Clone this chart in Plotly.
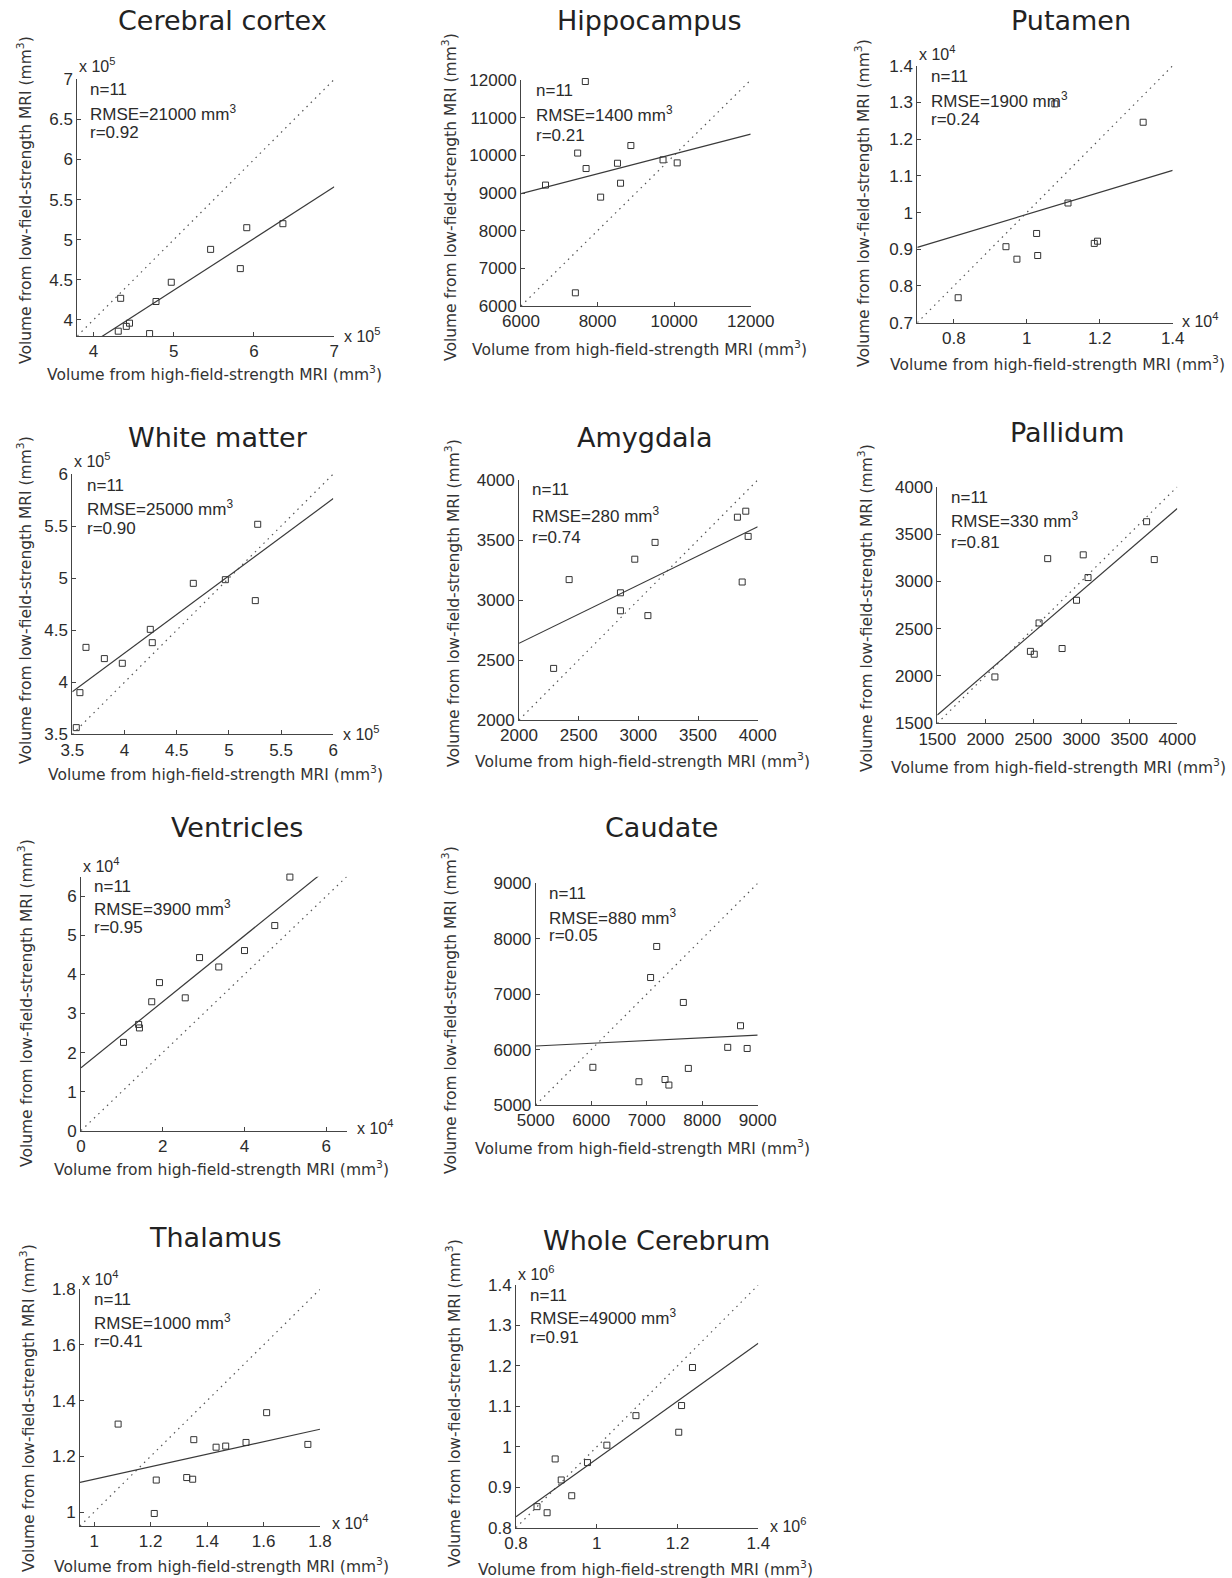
import numpy as np
import plotly.graph_objects as go

W, H = 1232, 1578

# ---------------- data (mm^3) ----------------
titles = ["Cerebral cortex", "Hippocampus", "Putamen", "White matter", "Amygdala",
          "Pallidum", "Ventricles", "Caudate", "Thalamus", "Whole Cerebrum"]

cortex_high = [434000, 431000, 441000, 445000, 470000, 478000, 497000, 546000, 583000, 591000, 636000]
cortex_low = [427000, 386000, 392000, 396000, 383000, 423000, 447000, 488000, 464000, 515000, 520000]

hippo_high = [6640, 7480, 7680, 7700, 7420, 8080, 8520, 8600, 8870, 9710, 10080]
hippo_low = [9210, 10060, 11960, 9650, 6350, 8890, 9790, 9260, 10260, 9880, 9800]

putamen_high = [8120, 9430, 9730, 10270, 10300, 10770, 11130, 11850, 11940, 13190]
putamen_low = [7680, 9070, 8730, 9430, 8830, 12960, 10260, 9160, 9220, 12460]

white_high = [353800, 357300, 363100, 380700, 397900, 424700, 426600, 465900, 496600, 525300, 527600]
white_low = [356400, 390000, 433500, 422700, 418200, 450800, 438000, 495000, 498500, 478400, 551700]

amyg_high = [2290, 2420, 2850, 2850, 2970, 3080, 3140, 3830, 3900, 3870, 3920]
amyg_low = [2430, 3170, 3060, 2910, 3340, 2870, 3480, 3690, 3740, 3150, 3530]

pall_high = [2100, 2470, 2510, 2560, 2650, 2800, 2950, 3020, 3070, 3680, 3760]
pall_low = [1990, 2260, 2230, 2560, 3240, 2290, 2800, 3280, 3040, 3630, 3230]

vent_high = [10400, 14100, 14300, 17300, 19200, 25500, 29000, 33700, 40000, 47400, 51100]
vent_low = [22600, 27200, 26300, 33000, 37900, 34000, 44300, 41900, 46100, 52500, 64900]

caud_high = [6030, 6860, 7070, 7180, 7330, 7400, 7660, 7750, 8460, 8690, 8810]
caud_low = [5680, 5420, 7300, 7860, 5460, 5360, 6850, 5660, 6040, 6430, 6020]

thal_high = [10850, 12130, 12200, 13280, 13490, 13530, 14320, 14660, 15380, 16110, 17570]
thal_low = [13160, 9950, 11150, 11240, 11180, 12600, 12330, 12370, 12500, 13570, 12430]

whole_high = [852000, 877000, 897000, 912000, 938000, 977000, 1025000, 1097000, 1203000, 1210000, 1237000]
whole_low = [852000, 837000, 970000, 918000, 879000, 961000, 1004000, 1077000, 1036000, 1102000, 1196000]

high_sets = [cortex_high, hippo_high, putamen_high, white_high, amyg_high,
             pall_high, vent_high, caud_high, thal_high, whole_high]
low_sets = [cortex_low, hippo_low, putamen_low, white_low, amyg_low,
            pall_low, vent_low, caud_low, thal_low, whole_low]

fit_slope = [0.645, 0.263, 0.30, 0.742, 0.486, 0.873, 0.845, 0.0495, 0.2247, 0.715]
fit_intercept = [114500, 7406, 6950, 131200, 1667, 278, 16110, 5817, 8930, 255000]
n_subjects = [11, 11, 11, 11, 11, 11, 11, 11, 11, 11]
rmse_values = [21000, 1400, 1900, 25000, 280, 330, 3900, 880, 1000, 49000]
r_values = ["0.92", "0.21", "0.24", "0.90", "0.74", "0.81", "0.95", "0.05", "0.41", "0.91"]
scale_exp = [5, 0, 4, 5, 0, 0, 4, 0, 4, 6]

axis_ranges = [[3.8, 7], [6000, 12000], [0.7, 1.4], [3.5, 6], [2000, 4000],
               [1500, 4000], [0, 6.5], [5000, 9000], [0.95, 1.8], [0.8, 1.4]]
x_ticks = [[4, 5, 6, 7], [6000, 8000, 10000, 12000], [0.8, 1.0, 1.2, 1.4],
           [3.5, 4, 4.5, 5, 5.5, 6], [2000, 2500, 3000, 3500, 4000],
           [1500, 2000, 2500, 3000, 3500, 4000], [0, 2, 4, 6],
           [5000, 6000, 7000, 8000, 9000], [1.0, 1.2, 1.4, 1.6, 1.8], [0.8, 1.0, 1.2, 1.4]]
y_ticks = [[4, 4.5, 5, 5.5, 6, 6.5, 7], [6000, 7000, 8000, 9000, 10000, 11000, 12000],
           [0.7, 0.8, 0.9, 1.0, 1.1, 1.2, 1.3, 1.4], [3.5, 4, 4.5, 5, 5.5, 6],
           [2000, 2500, 3000, 3500, 4000], [1500, 2000, 2500, 3000, 3500, 4000],
           [0, 1, 2, 3, 4, 5, 6], [5000, 6000, 7000, 8000, 9000],
           [1.0, 1.2, 1.4, 1.6, 1.8], [0.8, 0.9, 1.0, 1.1, 1.2, 1.3, 1.4]]

x_label = "Volume from high-field-strength MRI (mm<sup>3</sup>)"
y_label = "Volume from low-field-strength MRI (mm<sup>3</sup>)"

# ---------------- layout geometry (pixels) ----------------
# box: (left, right, top, bottom)
geom = [
    dict(box=(77.3, 334.3, 79.3, 336), title=(222, 21), ylab=(24, 200), xlab=(214, 373),
         stats=(88, 89, 113, 132), etop=(77, 65), eright=(342, 335)),
    dict(box=(521, 750.7, 80, 306), title=(649, 21), ylab=(449, 197), xlab=(640, 348),
         stats=(534, 90, 114, 135)),
    dict(box=(917.3, 1172.7, 65.7, 322.7), title=(1071, 21), ylab=(863, 203), xlab=(1057, 363),
         stats=(929, 77, 100, 120), etop=(917, 53), eright=(1180, 320)),
    dict(box=(72.3, 333.3, 474, 734.3), title=(218, 437), ylab=(25, 600), xlab=(215, 773),
         stats=(85, 485, 508, 528), etop=(72, 460), eright=(341, 733)),
    dict(box=(519, 757.7, 480, 720), title=(645, 437), ylab=(452, 603), xlab=(642, 760),
         stats=(530, 490, 515, 537)),
    dict(box=(937.3, 1177.3, 486.7, 723.3), title=(1067, 433), ylab=(865, 608), xlab=(1058, 767),
         stats=(949, 497, 520, 542)),
    dict(box=(81, 346.7, 876.7, 1130.7), title=(237, 827), ylab=(25, 1003), xlab=(221, 1168),
         stats=(92, 886, 908, 927), etop=(81, 865), eright=(355, 1127)),
    dict(box=(535.7, 757.7, 883.3, 1105), title=(661, 827), ylab=(450, 1010), xlab=(642, 1147),
         stats=(547, 893, 917, 935)),
    dict(box=(80, 320, 1289.3, 1526), title=(215, 1237), ylab=(27, 1408), xlab=(221, 1565),
         stats=(92, 1299, 1322, 1341), etop=(80, 1278), eright=(330, 1522)),
    dict(box=(516, 758.3, 1285, 1527.7), title=(656, 1240), ylab=(453, 1403), xlab=(645, 1568),
         stats=(528, 1295, 1317, 1337), etop=(516, 1273), eright=(768, 1525)),
]

TXT = "#2b2b2b"
TICKFONT = dict(family="Liberation Sans, Arial", size=17, color=TXT)


def px_x(v):
    return v / W


def px_y(v):
    return 1 - v / H


def fmt(v):
    return "{:g}".format(v)


fig = go.Figure()
annotations = []
layout_axes = {}

for i in range(10):
    g = geom[i]
    k = "" if i == 0 else str(i + 1)
    xa, ya = "x" + k, "y" + k
    sc = 10 ** scale_exp[i]
    lo, hi = axis_ranges[i]
    xs = np.array(high_sets[i]) / sc
    ys = np.array(low_sets[i]) / sc

    # identity (dotted)
    fig.add_trace(go.Scatter(x=[lo, hi], y=[lo, hi], mode="lines", xaxis=xa, yaxis=ya,
                             line=dict(color="#555", width=1.2, dash="1.5px,4.5px"),
                             showlegend=False, hoverinfo="skip"))
    # fit line
    fx = np.array([lo, hi])
    fy = (fit_slope[i] * fx * sc + fit_intercept[i]) / sc
    fig.add_trace(go.Scatter(x=fx, y=fy, mode="lines", xaxis=xa, yaxis=ya,
                             line=dict(color="#3a3a3a", width=1.2),
                             showlegend=False, hoverinfo="skip"))
    # points
    fig.add_trace(go.Scatter(x=xs, y=ys, mode="markers", xaxis=xa, yaxis=ya,
                             marker=dict(symbol="square-open", size=6, color="#333",
                                         line=dict(width=1, color="#333")),
                             cliponaxis=False, showlegend=False))

    l, r, t, b = g["box"]
    layout_axes["xaxis" + k] = dict(
        domain=[px_x(l), px_x(r)], anchor=ya, range=[lo, hi],
        tickvals=x_ticks[i], ticktext=[fmt(v) for v in x_ticks[i]],
        ticks="inside", ticklen=4, tickcolor="#444", showline=True, linecolor="#444",
        linewidth=1, showgrid=False, zeroline=False, tickfont=TICKFONT, fixedrange=True,
        automargin=False)
    layout_axes["yaxis" + k] = dict(
        domain=[px_y(b), px_y(t)], anchor=xa, range=[lo, hi],
        tickvals=y_ticks[i], ticktext=[fmt(v) for v in y_ticks[i]],
        ticks="inside", ticklen=4, tickcolor="#444", showline=True, linecolor="#444",
        linewidth=1, showgrid=False, zeroline=False, tickfont=TICKFONT, fixedrange=True,
        automargin=False)

    annotations.append(dict(text=titles[i], x=px_x(g["title"][0]), y=px_y(g["title"][1]),
                            xref="paper", yref="paper", xanchor="center", yanchor="middle",
                            showarrow=False,
                            font=dict(family="DejaVu Sans", size=27, color="#222")))
    annotations.append(dict(text=x_label, x=px_x(g["xlab"][0]), y=px_y(g["xlab"][1]),
                            xref="paper", yref="paper", xanchor="center", yanchor="middle",
                            showarrow=False,
                            font=dict(family="DejaVu Sans", size=15.5, color="#333")))
    annotations.append(dict(text=y_label, x=px_x(g["ylab"][0]), y=px_y(g["ylab"][1]),
                            xref="paper", yref="paper", xanchor="center", yanchor="middle",
                            textangle=-90, showarrow=False,
                            font=dict(family="DejaVu Sans", size=15.5, color="#333")))
    sx, yn, yr_, yrr = g["stats"]
    stats_font = dict(family="Liberation Sans, Arial", size=17, color=TXT)
    for txt, yy in [("n=%d" % n_subjects[i], yn),
                    ("RMSE=%d mm<sup>3</sup>" % rmse_values[i], yr_),
                    ("r=" + r_values[i], yrr)]:
        annotations.append(dict(text=txt, x=px_x(sx), y=px_y(yy), xref="paper", yref="paper",
                                xanchor="left", yanchor="middle", showarrow=False,
                                font=stats_font))
    if scale_exp[i] > 0:
        etxt = "x 10<sup>%d</sup>" % scale_exp[i]
        for key in ("etop", "eright"):
            ex, ey = g[key]
            annotations.append(dict(text=etxt, x=px_x(ex), y=px_y(ey), xref="paper",
                                    yref="paper", xanchor="left", yanchor="middle",
                                    showarrow=False,
                                    font=dict(family="Liberation Sans, Arial", size=16,
                                              color=TXT)))

fig.update_layout(width=W, height=H,
                  margin=dict(l=0, r=0, t=0, b=0, pad=0, autoexpand=False),
                  paper_bgcolor="white", plot_bgcolor="white",
                  annotations=annotations, **layout_axes)

fig.write_html("out.html")
